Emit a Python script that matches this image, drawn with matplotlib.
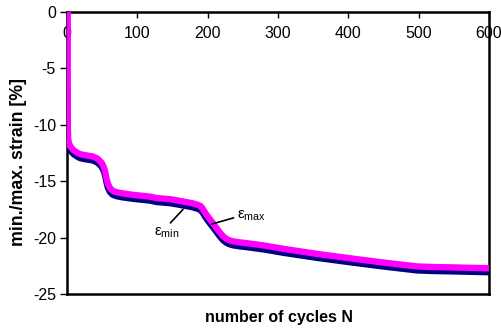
import matplotlib
matplotlib.use('Agg')
import matplotlib.pyplot as plt

plt.rcParams['font.family'] = ['Liberation Sans', 'DejaVu Sans']
plt.rcParams['mathtext.fontset'] = 'custom'
plt.rcParams['mathtext.rm'] = 'Liberation Sans'
plt.rcParams['mathtext.it'] = 'Liberation Sans'

# strain curves (cycles, percent)
N_max = [1, 1, 1.2, 1.6, 2.5, 5, 9, 14, 18, 24, 30, 36, 42, 45, 49, 52, 54, 56, 58, 61,
         65, 70, 78, 95, 118, 128, 147, 166, 178, 186, 190, 193, 197, 201, 206, 212, 218,
         222, 226, 230, 236, 245, 256, 280, 308, 356, 403, 451, 498, 520, 546, 600]
eps_max = [0, -5, -10.3, -11.2, -11.6, -11.95, -12.23, -12.45, -12.59, -12.68, -12.74,
           -12.8, -12.95, -13.1, -13.35, -13.7, -14.1, -14.7, -15.2, -15.6, -15.85,
           -15.97, -16.07, -16.22, -16.37, -16.5, -16.6, -16.81, -16.95, -17.1, -17.2,
           -17.45, -17.85, -18.2, -18.6, -19.1, -19.6, -19.88, -20.08, -20.22, -20.33,
           -20.42, -20.5, -20.7, -21.0, -21.45, -21.84, -22.22, -22.56, -22.61, -22.64,
           -22.72]

N_min = [0.5, 1.6, 2.5, 5, 9, 14, 18, 24, 30, 36, 42, 45, 49, 52, 54, 56, 58, 61, 65,
         70, 78, 95, 118, 128, 147, 166, 178, 186, 190, 193, 197, 201, 206, 212, 218, 222,
         226, 230, 236, 245, 256, 280, 308, 356, 403, 451, 498, 520, 546, 600]
eps_min = [-11.6, -11.75, -11.95, -12.3, -12.58, -12.8, -12.94, -13.03, -13.09, -13.15,
           -13.3, -13.45, -13.7, -14.05, -14.45, -15.05, -15.55, -15.95, -16.2, -16.32,
           -16.42, -16.57, -16.72, -16.85, -16.95, -17.16, -17.3, -17.45, -17.55, -17.8,
           -18.2, -18.55, -18.95, -19.45, -19.95, -20.23, -20.43, -20.57, -20.68, -20.77,
           -20.85, -21.05, -21.35, -21.8, -22.19, -22.57, -22.91, -22.96, -22.99, -23.07]

x_ticks = [0, 100, 200, 300, 400, 500, 600]
y_ticks = [0, -5, -10, -15, -20, -25]

fig = plt.figure(figsize=(5.02, 3.28), dpi=100)
ax = fig.add_axes([0.1335, 0.1037, 0.8405, 0.8597])

ax.plot(N_min, eps_min, color='#000080', lw=4.6, solid_joinstyle='round', solid_capstyle='butt', zorder=2)
ax.plot(N_max, eps_max, color='#ff00ff', lw=4.6, solid_joinstyle='round', solid_capstyle='butt', zorder=3)

ax.set_xlim(0, 600)
ax.set_ylim(-25, 0)
ax.set_xticks(x_ticks)
ax.set_yticks(y_ticks)
ax.set_yticklabels([str(v) for v in y_ticks])

ax.tick_params(axis='x', top=True, bottom=False, labeltop=True, labelbottom=False,
               direction='in', length=4, width=1, pad=-21, labelsize=11.5)
ax.tick_params(axis='y', direction='out', length=5, width=1, labelsize=11.5, pad=3)
for s in ax.spines.values():
    s.set_linewidth(1.8)

ax.set_xlabel('number of cycles N', fontsize=11.5, fontweight='bold')
ax.set_ylabel('min./max. strain [%]', fontsize=12.8, fontweight='bold')
ax.xaxis.set_label_coords(0.502, -0.085)
ax.yaxis.set_label_coords(-0.116, 0.468)
ax.xaxis.label.set_va('center')
ax.yaxis.label.set_va('center')

# annotations
ax.annotate('', xy=(165, -17.5), xytext=(147, -18.7),
            arrowprops=dict(arrowstyle='-', lw=1.2, color='black', shrinkA=0, shrinkB=0))
ax.text(142, -19.6, r'$\mathrm{ε}_{\mathrm{min}}$', fontsize=11, ha='center', va='center')
ax.annotate('', xy=(206, -18.8), xytext=(237, -18.25),
            arrowprops=dict(arrowstyle='-', lw=1.2, color='black', shrinkA=0, shrinkB=0))
ax.text(242, -18.1, r'$\mathrm{ε}_{\mathrm{max}}$', fontsize=11, ha='left', va='center')

fig.savefig('out.png', dpi=100)
